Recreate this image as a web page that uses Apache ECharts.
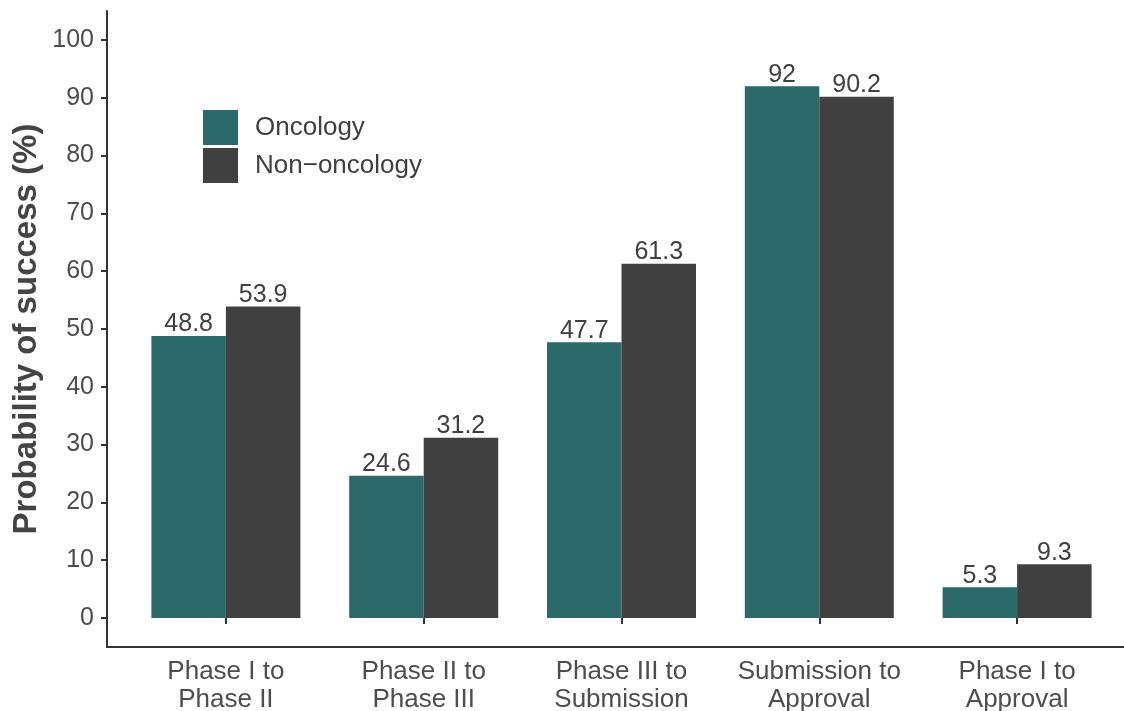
<!DOCTYPE html>
<html>
<head>
<meta charset="utf-8">
<script src="https://cdn.jsdelivr.net/npm/echarts@6/dist/echarts.min.js"></script>
<style>
html,body{margin:0;padding:0;background:#fff;}
#chart{width:1124px;height:711px;}
</style>
</head>
<body>
<div id="chart"></div>
<script>
const categories = ['Phase I to\nPhase II', 'Phase II to\nPhase III', 'Phase III to\nSubmission', 'Submission to\nApproval', 'Phase I to\nApproval'];
const oncology = [48.8, 24.6, 47.7, 92, 5.3];
const nonOncology = [53.9, 31.2, 61.3, 90.2, 9.3];
const yTicks = [0, 10, 20, 30, 40, 50, 60, 70, 80, 90, 100];

const FONT = 'Liberation Sans, Arial, Helvetica, sans-serif';
const TEXT = '#4d4d4d';
const LINE = '#333333';

const chart = echarts.init(document.getElementById('chart'), null, {renderer: 'canvas'});
chart.setOption({
  animation: false,
  backgroundColor: '#ffffff',
  textStyle: {fontFamily: FONT},
  legend: {
    orient: 'vertical',
    left: 203,
    top: 110,
    padding: 0,
    itemWidth: 35,
    itemHeight: 35,
    itemGap: 3,
    icon: 'rect',
    textStyle: {fontSize: 26, color: '#404040', fontFamily: FONT, padding: [2, 0, 0, 12]},
    data: ['Oncology', 'Non\u2212oncology']
  },
  grid: [
    {left: 127, right: 8, top: 40, bottom: 93, containLabel: false, outerBoundsMode: 'none'},
    {left: 107, right: -14, top: 11, bottom: 64, containLabel: false, outerBoundsMode: 'none'}
  ],
  xAxis: [
    {
      type: 'category', gridIndex: 0, data: categories,
      offset: 29,
      axisLine: {show: false},
      axisTick: {show: true, alignWithLabel: true, length: 6, lineStyle: {color: LINE, width: 2}},
      axisLabel: {fontSize: 26, color: TEXT, fontFamily: FONT, lineHeight: 28, margin: 11, interval: 0}
    },
    {
      type: 'value', gridIndex: 1, min: 0, max: 1,
      axisLine: {show: true, onZero: false, lineStyle: {color: LINE, width: 2}},
      axisTick: {show: false}, axisLabel: {show: false}, splitLine: {show: false}
    }
  ],
  yAxis: [
    {
      type: 'value', gridIndex: 0, min: 0, max: 100, interval: 10,
      offset: 20,
      axisLine: {show: false},
      axisTick: {show: true, length: 6, lineStyle: {color: LINE, width: 2}},
      axisLabel: {fontSize: 25, color: TEXT, fontFamily: FONT, margin: 13,
        formatter: v => yTicks.includes(v) ? String(v) : ''},
      splitLine: {show: false}
    },
    {
      type: 'value', gridIndex: 1, min: 0, max: 1,
      axisLine: {show: true, onZero: false, lineStyle: {color: LINE, width: 2}},
      axisTick: {show: false}, axisLabel: {show: false}, splitLine: {show: false},
      name: 'Probability of success (%)',
      nameLocation: 'middle', nameRotate: 90, nameGap: 64,
      nameTextStyle: {fontSize: 33, fontWeight: 'bold', color: '#444444', fontFamily: FONT}
    }
  ],
  series: [
    {
      name: 'Oncology', type: 'bar', xAxisIndex: 0, yAxisIndex: 0,
      data: oncology, barWidth: 74.5, barGap: '0%',
      itemStyle: {color: '#2b696b'},
      label: {show: true, position: 'top', distance: -1, fontSize: 25, color: '#404040', fontFamily: FONT}
    },
    {
      name: 'Non\u2212oncology', type: 'bar', xAxisIndex: 0, yAxisIndex: 0,
      data: nonOncology, barWidth: 74.5, barGap: '0%',
      itemStyle: {color: '#404040'},
      label: {show: true, position: 'top', distance: -1, fontSize: 25, color: '#404040', fontFamily: FONT}
    }
  ]
});
</script>
</body>
</html>
